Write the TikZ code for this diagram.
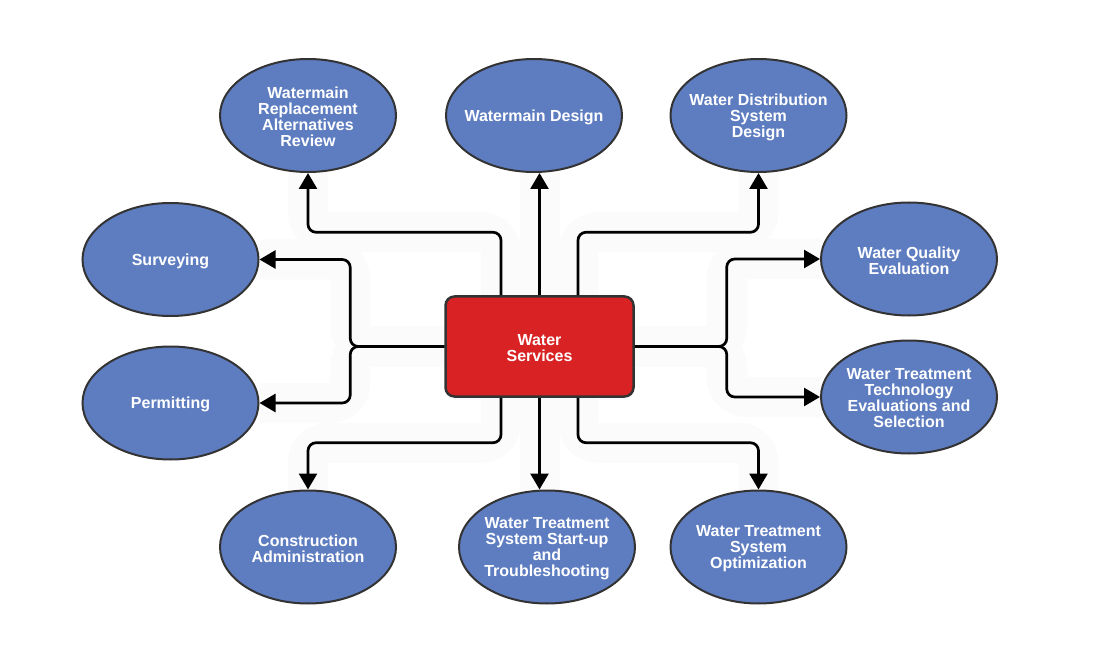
\documentclass[tikz,border=0pt]{standalone}
\usepackage{fontspec}
\setmainfont{Liberation Sans}
\usetikzlibrary{shapes.geometric,arrows.meta}
\definecolor{ellfill}{RGB}{94,125,193}
\definecolor{boxfill}{RGB}{216,34,36}
\definecolor{edgecol}{RGB}{51,51,51}
\definecolor{halocol}{RGB}{251,251,251}
\pgfdeclarelayer{bg}
\pgfsetlayers{bg,main}
\begin{document}
\begin{tikzpicture}[x=1pt,y=-1pt,
  ell/.style={ellipse,draw=edgecol,line width=2pt,fill=ellfill,minimum width=176pt,minimum height=113pt,inner sep=0pt},
  lbl/.style={text=white,font=\fontsize{16}{16}\selectfont\bfseries,align=center,inner sep=0pt,yshift=-1.5pt},
  hub/.style={draw=edgecol,line width=2.5pt,fill=boxfill,rounded corners=9pt,minimum width=188pt,minimum height=100pt,inner sep=0pt},
  conn/.style={line width=2.7pt,rounded corners=8pt,-{Triangle[length=16pt,width=18pt]}},
  haloline/.style={line width=40pt,draw=halocol,rounded corners=20pt}]
\useasboundingbox (0,0) rectangle (1117,671);

% hub
\node[hub] (hub) at (539.5,346.5) {};
\node[lbl] (hubt) at (hub) {Water\\Services};

% ellipses
\node[ell] (e1) at (308,115.5) {};
\node[lbl] (e1t) at (e1) {Watermain\\Replacement\\Alternatives\\Review};
\node[ell] (e2) at (534,115.5) {};
\node[lbl] (e2t) at (e2) {Watermain Design};
\node[ell] (e3) at (758.5,115.5) {};
\node[lbl] (e3t) at (e3) {Water Distribution\\System\\Design};
\node[ell] (surv) at (170.5,259.5) {};
\node[lbl] (survt) at (surv) {Surveying};
\node[ell] (perm) at (170.5,403) {};
\node[lbl] (permt) at (perm) {Permitting};
\node[ell] (wq) at (909,259) {};
\node[lbl] (wqt) at (wq) {Water Quality\\Evaluation};
\node[ell] (wtt) at (909,397) {};
\node[lbl] (wttt) at (wtt) {Water Treatment\\Technology\\Evaluations and\\Selection};
\node[ell] (ca) at (308,547) {};
\node[lbl] (cat) at (ca) {Construction\\Administration};
\node[ell] (su) at (547,547) {};
\node[lbl] (sut) at (su) {Water Treatment\\System Start-up\\and\\Troubleshooting};
\node[ell] (opt) at (758.5,547) {};
\node[lbl] (optt) at (opt) {Water Treatment\\System\\Optimization};

% halos
\begin{pgfonlayer}{bg}
\fill[white] (0,0) rectangle (1117,671);
\draw[haloline] ([xshift=-38.5pt]hub.north) -- ++(0,-63) -| (e1.south);
\draw[haloline] (hub.north) -- (hub.north |- e2.south);
\draw[haloline] ([xshift=38.5pt]hub.north) -- ++(0,-63) -| (e3.south);
\draw[haloline] (hub.west) -- ++(-94,0) |- (surv.east);
\draw[haloline] (hub.west) -- ++(-94,0) |- (perm.east);
\draw[haloline] (hub.east) -- ++(92,0) |- (wq.west);
\draw[haloline] (hub.east) -- ++(92,0) |- (wtt.west);
\draw[haloline] ([xshift=-38.5pt]hub.south) -- ++(0,45) -| (ca.north);
\draw[haloline] (hub.south) -- (hub.south |- su.north);
\draw[haloline] ([xshift=38.5pt]hub.south) -- ++(0,45) -| (opt.north);
\end{pgfonlayer}

% connectors
\draw[conn] ([xshift=-38.5pt]hub.north) -- ++(0,-63) -| (e1.south);
\draw[conn] (hub.north) -- (hub.north |- e2.south);
\draw[conn] ([xshift=38.5pt]hub.north) -- ++(0,-63) -| (e3.south);
\draw[conn] (hub.west) -- ++(-94,0) |- (surv.east);
\draw[conn] (hub.west) -- ++(-94,0) |- (perm.east);
\draw[conn] (hub.east) -- ++(92,0) |- (wq.west);
\draw[conn] (hub.east) -- ++(92,0) |- (wtt.west);
\draw[conn] ([xshift=-38.5pt]hub.south) -- ++(0,45) -| (ca.north);
\draw[conn] (hub.south) -- (hub.south |- su.north);
\draw[conn] ([xshift=38.5pt]hub.south) -- ++(0,45) -| (opt.north);
\end{tikzpicture}
\end{document}
